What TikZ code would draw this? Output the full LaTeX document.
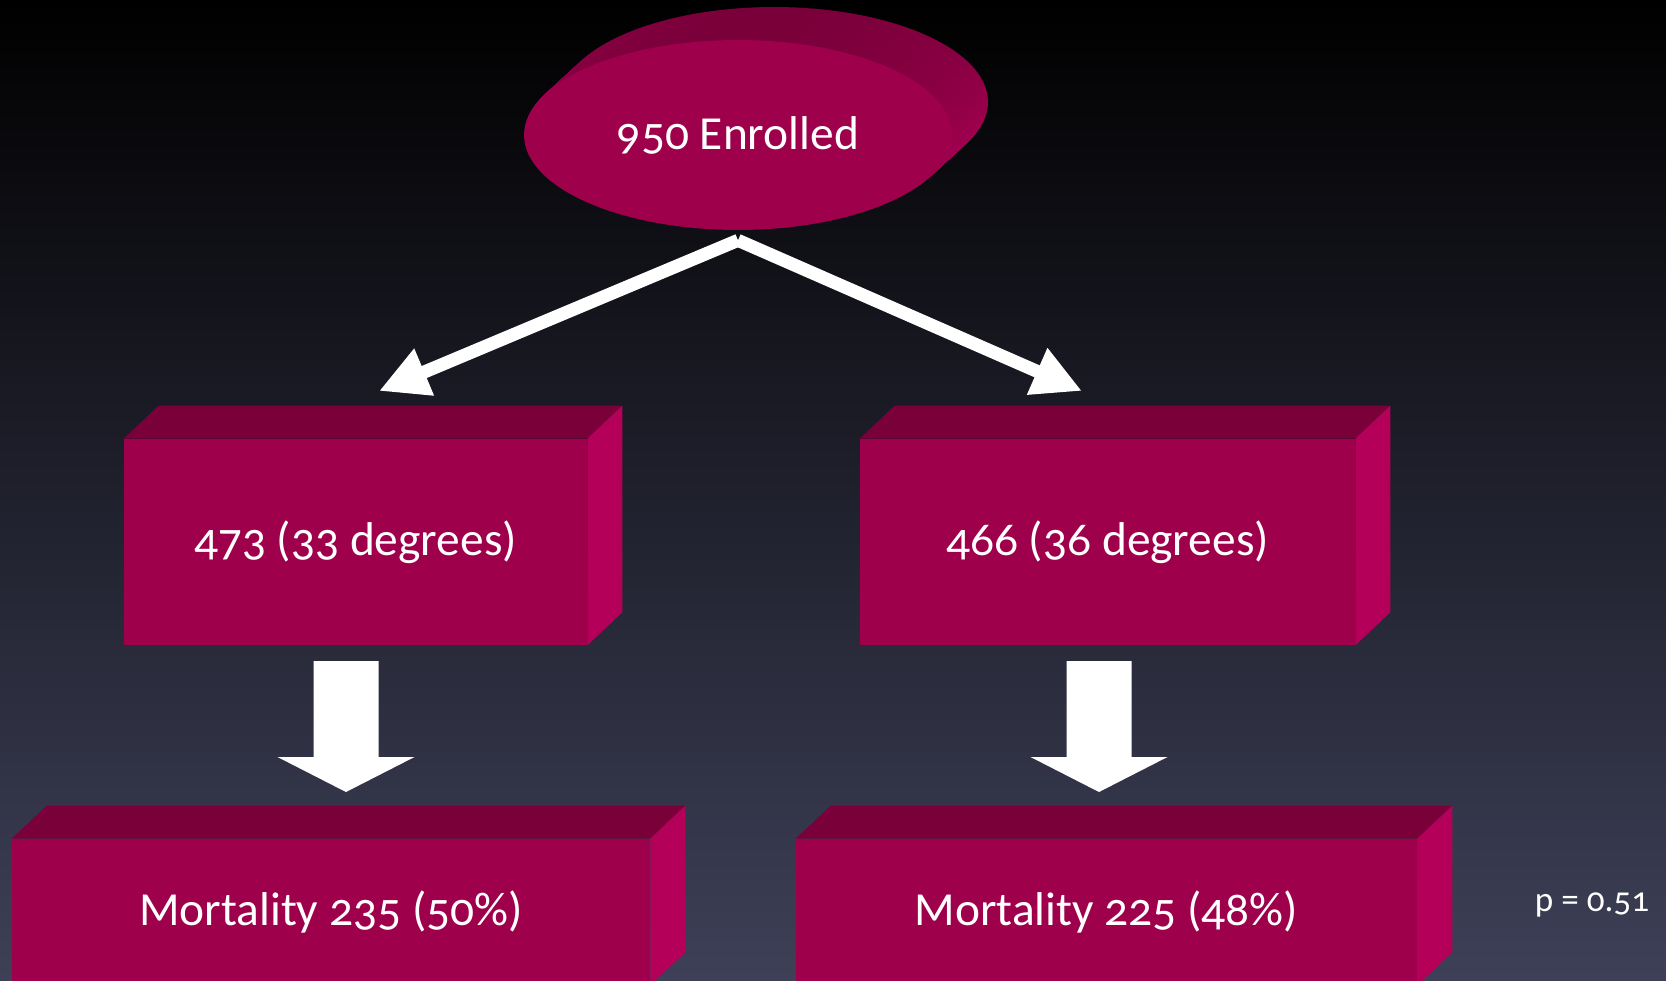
\documentclass[tikz,border=0pt]{standalone}
\usepackage{fontspec}
\setmainfont{Carlito}[Numbers=OldStyle]
\usetikzlibrary{arrows.meta,shapes.geometric,calc}

\definecolor{facefront}{RGB}{158,0,76}
\definecolor{facetop}{RGB}{122,0,58}
\definecolor{faceside}{RGB}{181,0,90}
\definecolor{bgmid}{RGB}{20,20,32}
\definecolor{bgbottom}{RGB}{62,64,88}

\tikzset{
  boxfront/.style={rectangle, fill=facefront, text=white, inner sep=0pt,
    font=\fontsize{27}{32}\selectfont},
  fatarrow/.style={white, line width=0.26cm,
    -{Triangle[length=0.98cm,width=0.95cm]}}
}

\begin{document}
\begin{tikzpicture}[x=0.02cm, y=-0.02cm]
    % background
    \useasboundingbox (0,0) rectangle (1666,980);
    \clip (0,0) rectangle (1666,980);
    \shade[top color=black, middle color=bgmid, bottom color=bgbottom]
        (0,0) rectangle (1666,980);

    % enrolled disc, drawn as stacked ellipses behind the front face
    \coordinate (enrc) at (738,135);
    \foreach \k in {24,23,...,1}
        \shade[top color=facetop, bottom color=faceside]
            ($(enrc)+(1.5*\k,-1.375*\k)$) ellipse [x radius=4.28cm, y radius=1.9cm];
    \node[ellipse, fill=facefront, text=white, inner sep=0pt,
        minimum width=8.56cm, minimum height=3.8cm,
        font=\fontsize{27}{32}\selectfont] (enr) at (enrc) {950 Enrolled};

    % boxes
    \node[boxfront, minimum width=9.26cm, minimum height=4.12cm] (grpA) at (355.5,542) {473 (33 degrees)};
    \node[boxfront, minimum width=9.9cm, minimum height=4.12cm] (grpB) at (1107.5,542) {466 (36 degrees)};
    \node[boxfront, minimum width=12.76cm, minimum height=2.92cm] (mortA) at (331,912) {Mortality 235 (50\%)};
    \node[boxfront, minimum width=12.42cm, minimum height=2.92cm] (mortB) at (1106.5,912) {Mortality 225 (48\%)};

    \foreach \n in {grpA,grpB,mortA,mortB} {
        \fill[facetop] (\n.north west) -- (\n.north east) -- ++(35,-33)
            -- ($(\n.north west)+(35,-33)$) -- cycle;
        \fill[faceside] (\n.north east) -- ++(35,-33)
            -- ($(\n.south east)+(35,-33)$) -- (\n.south east) -- cycle;
    }

    % arrows
    \coordinate (tipA) at (379,391);
    \coordinate (tipB) at (1082,391);
    \draw[fatarrow] ($(enr.south)+(0,10)$) -- (tipA);
    \draw[fatarrow] ($(enr.south)+(0,10)$) -- (tipB);

    % block arrows down
    \coordinate (dnA) at (346,661);
    \coordinate (dnB) at (1099,661);
    \foreach \a in {dnA,dnB}
        \fill[white] ($(\a)+(-32.5,0)$) -- ++(65,0) -- ++(0,96) -- ++(36,0)
            -- ($(\a)+(0,131)$) -- ($(\a)+(-68.5,96)$) -- ++(36,0) -- cycle;

    % p value
    \node[text=white, font=\fontsize{20}{24}\selectfont] (pval) at (1592,905) {p = 0.51};
\end{tikzpicture}
\end{document}
